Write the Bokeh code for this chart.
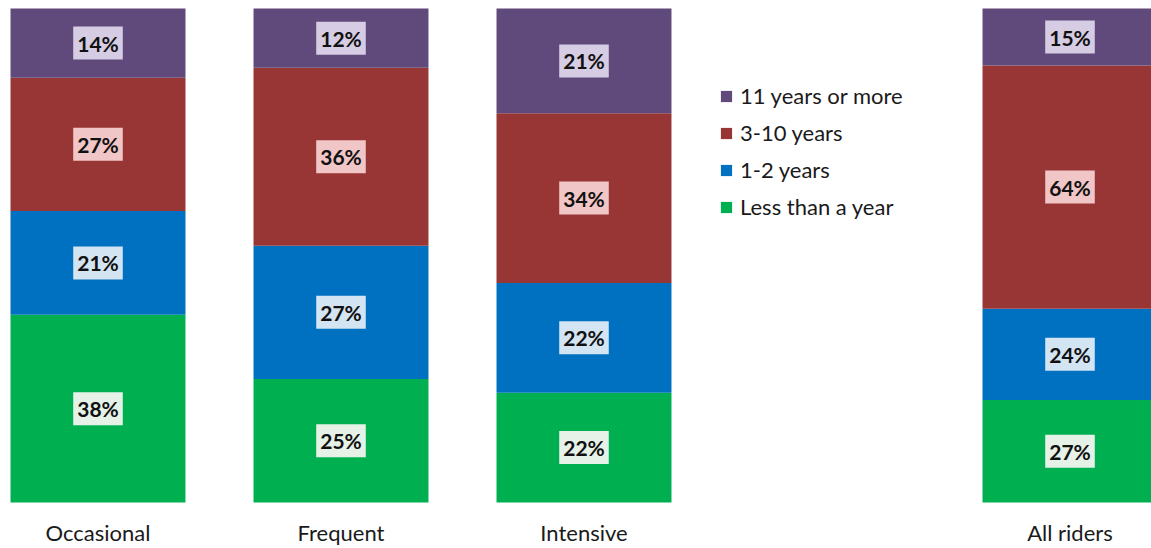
from bokeh.plotting import figure
from bokeh.models import ColumnDataSource, Range1d, Legend, LegendItem
from bokeh.core.properties import value
from bokeh.embed import file_html
from bokeh.resources import INLINE

# Rider groups and tenure shares (percent)
categories = ["Occasional", "Frequent", "Intensive", "All riders"]
series_names = ["Less than a year", "1-2 years", "3-10 years", "11 years or more"]
less_than_year = [38, 25, 22, 27]
one_to_two = [21, 27, 22, 24]
three_to_ten = [27, 36, 34, 64]
eleven_plus = [14, 12, 21, 15]

series_values = [less_than_year, one_to_two, three_to_ten, eleven_plus]
bar_colors = ["#00B050", "#0070C0", "#983535", "#604A7B"]
box_colors = ["#E6F2E8", "#D3E4F2", "#F1C6C6", "#D6CDE4"]

FONT = "Lato"

# Leave an empty slot before the overall bar (the legend sits there)
slots = [i if i < 3 else i + 1 for i in range(len(categories))]
totals = [sum(vals[i] for vals in series_values) for i in range(len(categories))]

p = figure(width=1151, height=548, output_backend="svg", toolbar_location=None,
           x_range=Range1d(-0.4012, 4.3354), y_range=Range1d(-0.0931, 1.0162),
           x_axis_location=None, y_axis_location=None, min_border=0)
p.outline_line_color = None
p.xgrid.visible = False
p.ygrid.visible = False
p.background_fill_color = "white"
p.border_fill_color = "white"

legend_items = []
base = [0.0] * len(categories)
for name, vals, color, box in zip(series_names, series_values, bar_colors, box_colors):
    bottoms = list(base)
    tops = [b + v / t for b, v, t in zip(bottoms, vals, totals)]
    src = ColumnDataSource(dict(
        x=slots, bottom=bottoms, top=tops,
        mid=[(b + t) / 2 for b, t in zip(bottoms, tops)],
        label=[f"{v}%" for v in vals],
    ))
    r = p.vbar(x="x", bottom="bottom", top="top", width=0.72, source=src,
               fill_color=color, line_color=None)
    p.text(x="x", y="mid", text="label", source=src,
           text_font=value(FONT), text_font_style="bold", text_font_size="21px",
           text_color="#111111", text_align="center", text_baseline="middle",
           background_fill_color=box, padding=4)
    legend_items.append(LegendItem(label=name, renderers=[r]))
    base = tops

# Group names under the bars
cat_src = ColumnDataSource(dict(x=slots, y=[-0.061] * len(slots), label=categories))
p.text(x="x", y="y", text="label", source=cat_src,
       text_font=value(FONT), text_font_size="22px", text_color="#1a1a1a",
       text_align="center", text_baseline="middle")

legend = Legend(items=list(reversed(legend_items)), location=(719, 328),
                orientation="vertical", glyph_width=14, glyph_height=14,
                label_height=20, spacing=10, padding=0, margin=0,
                label_standoff=7, label_text_font=FONT, label_text_font_size="22px",
                label_text_color="#1a1a1a", border_line_color=None,
                background_fill_alpha=0)
p.add_layout(legend, "center")

open("out.html", "w").write(file_html(p, INLINE))
